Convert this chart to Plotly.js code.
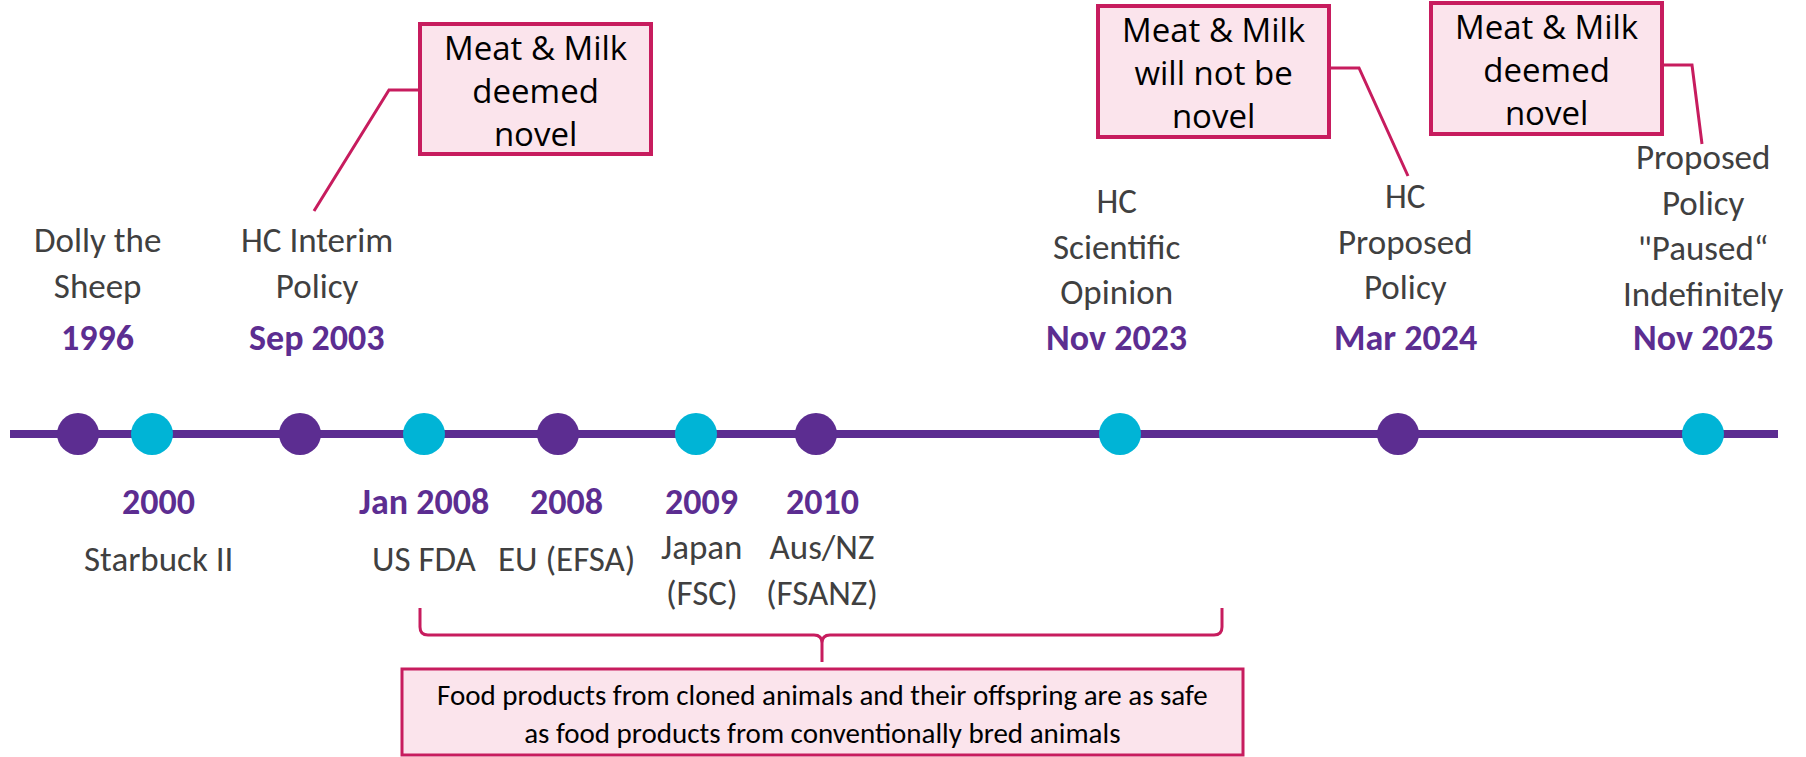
<!DOCTYPE html>
<html>
<head>
<meta charset="utf-8">
<script src="https://cdn.plot.ly/plotly-3.0.1.min.js"></script>
<style>
  html, body { margin: 0; padding: 0; background: #ffffff; }
  #chart { width: 1806px; height: 757px; }
</style>
</head>
<body>
<div id="chart"></div>
<script>
// ---------------- DATA ----------------
const dateLabels = ['1996', '2000', 'Sep 2003', 'Jan 2008', '2008', '2009', '2010', 'Nov 2023', 'Mar 2024', 'Nov 2025'];
const eventLabels = [
  'Dolly the<br>Sheep',
  'Starbuck II',
  'HC Interim<br>Policy',
  'US FDA',
  'EU (EFSA)',
  'Japan<br>(FSC)',
  'Aus/NZ<br>(FSANZ)',
  'HC<br>Scientific<br>Opinion',
  'HC<br>Proposed<br>Policy',
  'Proposed<br>Policy<br>"Paused\u201C<br>Indefinitely'
];
// position of each event along the (schematic, non-linear) timeline
const timelinePos = [78, 152, 300, 424, 558, 696, 816, 1120, 1398, 1703];
const markerGroup = ['A', 'B', 'A', 'B', 'A', 'B', 'A', 'B', 'A', 'B'];
const labelSide = ['above', 'below', 'above', 'below', 'below', 'below', 'below', 'above', 'above', 'above'];

const calloutTexts = ['Meat &amp; Milk<br>deemed<br>novel', 'Meat &amp; Milk<br>will not be<br>novel', 'Meat &amp; Milk<br>deemed<br>novel'];
const calloutEvent = [2, 8, 9];

const summaryText = 'Food products from cloned animals and their offspring are as safe<br>as food products from conventionally bred animals';

// ---------------- STYLE / LAYOUT ----------------
const PURPLE = '#5C2D91';
const CYAN = '#00B4D6';
const PINK = '#C71C5E';
const PINKFILL = '#FBE4EC';
const GREY = '#404040';
const groupColor = { A: PURPLE, B: CYAN };
const LABEL_FONT = 'Carlito, Calibri, Lato, sans-serif';
const BOX_FONT = '"Open Sans", "Segoe UI", sans-serif';
const LABEL_SIZE = 35;
const YEAR_SIZE = 36;
const LINE_Y = 434;
const labelShift = [19, 6, 17, 0, 8, 5, 6, -4, 7, 0];
const labelYShift = [-3, 0, -3, 0, 0, 0, 0, 3, -2, 5];

const calloutBoxes = [
  { x0: 420, x1: 651, y0: 24, y1: 154, path: 'M 420 90 L 389 90 L 314 211' },
  { x0: 1098, x1: 1329, y0: 6, y1: 137, path: 'M 1329 68 L 1359 68 L 1408 176' },
  { x0: 1431, x1: 1662, y0: 3, y1: 134, path: 'M 1662 65 L 1692 65 L 1702 144' }
];

const traces = [
  {
    x: [10, 1778], y: [LINE_Y, LINE_Y], mode: 'lines', type: 'scatter',
    line: { color: PURPLE, width: 8 }, hoverinfo: 'skip', showlegend: false
  },
  {
    x: timelinePos, y: timelinePos.map(() => LINE_Y), mode: 'markers', type: 'scatter',
    marker: { size: 42, color: markerGroup.map(g => groupColor[g]), line: { width: 0 } },
    text: dateLabels, hoverinfo: 'text', showlegend: false
  }
];

const annotations = [];
const lineH = LABEL_SIZE * 1.3;
eventLabels.forEach((lab, i) => {
  const n = lab.split('<br>').length;
  const x = timelinePos[i];
  if (labelSide[i] === 'above') {
    annotations.push({
      x: x, y: 289 + labelYShift[i] - (n - 1) * lineH / 2, xref: 'x', yref: 'y', xshift: labelShift[i],
      text: lab, showarrow: false, xanchor: 'center', yanchor: 'middle',
      font: { family: LABEL_FONT, size: LABEL_SIZE, color: GREY }
    });
    annotations.push({
      x: x, y: 338, xref: 'x', yref: 'y', xshift: labelShift[i],
      text: '<b>' + dateLabels[i] + '</b>', showarrow: false, xanchor: 'center', yanchor: 'middle',
      font: { family: LABEL_FONT, size: YEAR_SIZE, color: PURPLE }
    });
  } else {
    annotations.push({
      x: x, y: 502, xref: 'x', yref: 'y', xshift: labelShift[i],
      text: '<b>' + dateLabels[i] + '</b>', showarrow: false, xanchor: 'center', yanchor: 'middle',
      font: { family: LABEL_FONT, size: YEAR_SIZE, color: PURPLE }
    });
    annotations.push({
      x: x, y: 548 + 11 * n, xref: 'x', yref: 'y', xshift: labelShift[i],
      text: lab, showarrow: false, xanchor: 'center', yanchor: 'middle',
      font: { family: LABEL_FONT, size: LABEL_SIZE, color: GREY }
    });
  }
});

const shapes = [];
calloutTexts.forEach((t, k) => {
  const b = calloutBoxes[k];
  shapes.push({ type: 'path', path: b.path, xref: 'x', yref: 'y', line: { color: PINK, width: 3 } });
  shapes.push({ type: 'rect', x0: b.x0, x1: b.x1, y0: b.y0, y1: b.y1, xref: 'x', yref: 'y',
    line: { color: PINK, width: 4 }, fillcolor: PINKFILL, layer: 'above' });
  annotations.push({
    x: (b.x0 + b.x1) / 2, y: (b.y0 + b.y1) / 2 + 1, xref: 'x', yref: 'y',
    text: t, showarrow: false, xanchor: 'center', yanchor: 'middle',
    font: { family: BOX_FONT, size: 33, color: '#000000' }
  });
});

// curly bracket
shapes.push({
  type: 'path', xref: 'x', yref: 'y', line: { color: PINK, width: 3 },
  path: 'M 420 608 L 420 627 Q 420 635 428 635 L 814 635 Q 822 635 822 643 L 822 662 ' +
        'M 822 643 Q 822 635 830 635 L 1214 635 Q 1222 635 1222 627 L 1222 608'
});
// summary box
shapes.push({ type: 'rect', x0: 402, x1: 1243, y0: 669, y1: 755, xref: 'x', yref: 'y',
  line: { color: PINK, width: 3 }, fillcolor: PINKFILL });
annotations.push({
  x: 822, y: 714, xref: 'x', yref: 'y', text: summaryText, showarrow: false,
  xanchor: 'center', yanchor: 'middle',
  font: { family: LABEL_FONT, size: 29, color: '#000000' }
});

const layout = {
  width: 1806, height: 757,
  margin: { l: 0, r: 0, t: 0, b: 0 },
  paper_bgcolor: '#ffffff', plot_bgcolor: '#ffffff',
  xaxis: { range: [0, 1806], visible: false, fixedrange: true },
  yaxis: { range: [757, 0], visible: false, fixedrange: true },
  shapes: shapes,
  annotations: annotations,
  showlegend: false
};

Plotly.newPlot('chart', traces, layout, { displayModeBar: false, staticPlot: true });
</script>
</body>
</html>
